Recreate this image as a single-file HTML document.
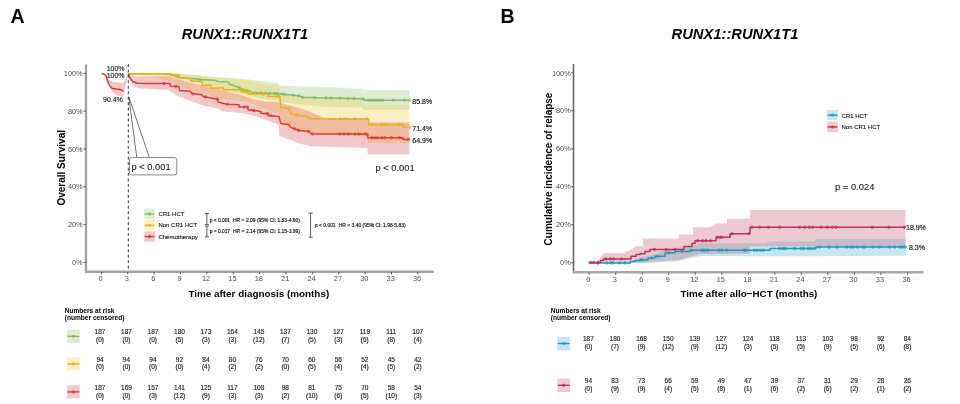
<!DOCTYPE html>
<html><head><meta charset="utf-8"><style>
html,body{margin:0;padding:0;background:#fff;width:960px;height:404px;overflow:hidden}
svg{display:block;filter:blur(0.3px)}
text{font-family:"Liberation Sans", sans-serif}
</style></head><body>
<svg width="960" height="404" viewBox="0 0 960 404">
<rect width="960" height="404" fill="#fff"/>
<text x="10.50" y="22.80" font-size="19.5" text-anchor="start" font-weight="bold" font-style="normal" fill="#000" >A</text>
<text x="500.50" y="23.20" font-size="19.5" text-anchor="start" font-weight="bold" font-style="normal" fill="#000" >B</text>
<text x="181.70" y="38.60" font-size="15.4" text-anchor="start" font-weight="bold" font-style="italic" fill="#000" textLength="126.6" lengthAdjust="spacingAndGlyphs">RUNX1::RUNX1T1</text>
<text x="671.50" y="38.60" font-size="15.4" text-anchor="start" font-weight="bold" font-style="italic" fill="#000" textLength="127" lengthAdjust="spacingAndGlyphs">RUNX1::RUNX1T1</text>
<g>
<path d="M128.20,73.40 L160.00,73.00 L175.00,73.50 L208.00,76.50 L245.00,79.00 L278.80,83.00 L278.80,85.80 L320.00,86.80 L363.00,88.90 L363.00,89.90 L409.30,89.90 L409.30,109.70 L363.00,109.70 L363.00,107.70 L320.00,106.60 L298.60,104.50 L278.80,101.50 L256.80,98.00 L223.40,89.50 L199.60,82.50 L179.80,78.50 L160.00,74.90 L128.20,74.20 Z" fill="#8fc46e" fill-opacity="0.3" stroke="none"/>
<path d="M128.20,73.20 L160.00,72.60 L175.00,72.80 L208.00,76.50 L245.00,80.00 L270.00,84.50 L279.30,84.60 L280.80,95.70 L320.00,97.70 L363.00,100.80 L363.00,104.75 L409.30,104.75 L409.30,143.40 L368.00,143.00 L367.00,136.00 L320.00,134.50 L300.00,131.00 L280.80,125.00 L278.80,113.50 L268.00,110.00 L256.80,105.80 L245.70,101.80 L223.40,99.20 L199.60,92.50 L190.00,89.80 L179.80,86.50 L167.90,80.50 L150.00,77.00 L128.20,74.00 Z" fill="#f2cd3c" fill-opacity="0.3" stroke="none"/>
<path d="M101.60,73.50 L105.00,74.00 L107.00,76.00 L108.00,79.00 L110.00,81.00 L114.00,82.00 L123.20,83.00 L128.20,73.50 L128.20,73.50 L123.20,97.50 L116.00,95.00 L112.00,92.00 L109.00,86.00 L107.00,82.00 L105.00,75.00 L101.60,73.50 Z" fill="#d7484e" fill-opacity="0.3" stroke="none"/>
<path d="M128.20,73.50 L135.00,76.20 L166.70,76.30 L175.00,77.80 L190.00,83.00 L208.00,86.50 L223.40,90.20 L245.70,96.40 L256.80,100.30 L268.00,101.40 L278.80,102.30 L288.00,105.00 L298.00,107.80 L307.00,110.60 L316.00,114.30 L325.00,118.00 L350.00,119.00 L367.70,119.50 L367.70,122.60 L409.30,122.60 L409.30,154.30 L367.70,154.30 L367.70,148.00 L326.00,146.80 L309.00,145.90 L298.00,143.10 L289.00,139.40 L279.30,135.70 L278.80,124.50 L256.80,117.00 L245.70,113.60 L223.40,111.40 L217.80,108.50 L205.00,106.00 L190.60,100.90 L180.00,97.20 L174.00,93.50 L167.90,89.80 L160.00,89.50 L140.00,88.30 L135.00,87.00 L131.00,83.00 L128.20,73.50 Z" fill="#d7484e" fill-opacity="0.3" stroke="none"/>
</g>
<path d="M128.20,73.80 L168.00,73.80 L172.00,75.00 L180.00,77.50 L195.00,78.70 L200.00,79.50 L215.00,80.30 L218.00,81.50 L228.00,82.00 L230.00,84.50 L238.00,87.00 L242.00,89.50 L250.00,91.20 L253.00,92.80 L280.00,93.70 L285.00,94.50 L298.60,95.70 L302.60,97.30 L320.00,97.70 L363.80,98.80 L363.80,100.20 L409.30,100.20" fill="none" stroke="#86b96c" stroke-width="1.5" stroke-linejoin="round"/>
<circle cx="199.6" cy="79.44" r="1.3" fill="#86b96c" fill-opacity="0.5" stroke="#86b96c" stroke-width="0.6"/>
<circle cx="239.2" cy="87.75" r="1.3" fill="#86b96c" fill-opacity="0.5" stroke="#86b96c" stroke-width="0.6"/>
<circle cx="242.9" cy="89.69" r="1.3" fill="#86b96c" fill-opacity="0.5" stroke="#86b96c" stroke-width="0.6"/>
<circle cx="246.8" cy="90.52" r="1.3" fill="#86b96c" fill-opacity="0.5" stroke="#86b96c" stroke-width="0.6"/>
<circle cx="255.7" cy="92.89" r="1.3" fill="#86b96c" fill-opacity="0.5" stroke="#86b96c" stroke-width="0.6"/>
<circle cx="260.7" cy="93.06" r="1.3" fill="#86b96c" fill-opacity="0.5" stroke="#86b96c" stroke-width="0.6"/>
<circle cx="265.6" cy="93.22" r="1.3" fill="#86b96c" fill-opacity="0.5" stroke="#86b96c" stroke-width="0.6"/>
<circle cx="269.6" cy="93.35" r="1.3" fill="#86b96c" fill-opacity="0.5" stroke="#86b96c" stroke-width="0.6"/>
<circle cx="274.6" cy="93.52" r="1.3" fill="#86b96c" fill-opacity="0.5" stroke="#86b96c" stroke-width="0.6"/>
<circle cx="277.5" cy="93.62" r="1.3" fill="#86b96c" fill-opacity="0.5" stroke="#86b96c" stroke-width="0.6"/>
<circle cx="282.8" cy="94.15" r="1.3" fill="#86b96c" fill-opacity="0.5" stroke="#86b96c" stroke-width="0.6"/>
<circle cx="285.4" cy="94.54" r="1.3" fill="#86b96c" fill-opacity="0.5" stroke="#86b96c" stroke-width="0.6"/>
<circle cx="293.4" cy="95.24" r="1.3" fill="#86b96c" fill-opacity="0.5" stroke="#86b96c" stroke-width="0.6"/>
<circle cx="298.6" cy="95.70" r="1.3" fill="#86b96c" fill-opacity="0.5" stroke="#86b96c" stroke-width="0.6"/>
<circle cx="302.6" cy="97.30" r="1.3" fill="#86b96c" fill-opacity="0.5" stroke="#86b96c" stroke-width="0.6"/>
<circle cx="314.5" cy="97.57" r="1.3" fill="#86b96c" fill-opacity="0.5" stroke="#86b96c" stroke-width="0.6"/>
<circle cx="326.0" cy="97.85" r="1.3" fill="#86b96c" fill-opacity="0.5" stroke="#86b96c" stroke-width="0.6"/>
<circle cx="331.0" cy="97.98" r="1.3" fill="#86b96c" fill-opacity="0.5" stroke="#86b96c" stroke-width="0.6"/>
<circle cx="340.0" cy="98.20" r="1.3" fill="#86b96c" fill-opacity="0.5" stroke="#86b96c" stroke-width="0.6"/>
<circle cx="347.9" cy="98.40" r="1.3" fill="#86b96c" fill-opacity="0.5" stroke="#86b96c" stroke-width="0.6"/>
<circle cx="353.9" cy="98.55" r="1.3" fill="#86b96c" fill-opacity="0.5" stroke="#86b96c" stroke-width="0.6"/>
<circle cx="362.8" cy="98.77" r="1.3" fill="#86b96c" fill-opacity="0.5" stroke="#86b96c" stroke-width="0.6"/>
<circle cx="367.7" cy="100.20" r="1.3" fill="#86b96c" fill-opacity="0.5" stroke="#86b96c" stroke-width="0.6"/>
<circle cx="370.0" cy="100.20" r="1.3" fill="#86b96c" fill-opacity="0.5" stroke="#86b96c" stroke-width="0.6"/>
<circle cx="372.5" cy="100.20" r="1.3" fill="#86b96c" fill-opacity="0.5" stroke="#86b96c" stroke-width="0.6"/>
<circle cx="375.0" cy="100.20" r="1.3" fill="#86b96c" fill-opacity="0.5" stroke="#86b96c" stroke-width="0.6"/>
<circle cx="377.5" cy="100.20" r="1.3" fill="#86b96c" fill-opacity="0.5" stroke="#86b96c" stroke-width="0.6"/>
<circle cx="380.0" cy="100.20" r="1.3" fill="#86b96c" fill-opacity="0.5" stroke="#86b96c" stroke-width="0.6"/>
<circle cx="382.6" cy="100.20" r="1.3" fill="#86b96c" fill-opacity="0.5" stroke="#86b96c" stroke-width="0.6"/>
<circle cx="393.5" cy="100.20" r="1.3" fill="#86b96c" fill-opacity="0.5" stroke="#86b96c" stroke-width="0.6"/>
<circle cx="404.4" cy="100.20" r="1.3" fill="#86b96c" fill-opacity="0.5" stroke="#86b96c" stroke-width="0.6"/>
<circle cx="409.3" cy="100.20" r="1.3" fill="#86b96c" fill-opacity="0.5" stroke="#86b96c" stroke-width="0.6"/>
<path d="M128.20,73.70 L170.80,73.70 L170.80,75.00 L179.20,75.00 L179.20,77.80 L190.00,78.50 L191.00,81.30 L202.00,81.30 L202.00,85.20 L211.00,85.20 L211.00,88.00 L223.40,88.00 L223.40,89.70 L241.00,89.70 L241.00,91.40 L248.00,91.40 L248.00,94.10 L268.00,94.10 L268.00,96.40 L279.80,96.40 L280.80,107.60 L288.70,108.60 L290.70,113.50 L298.60,115.50 L306.50,116.50 L310.50,118.50 L320.00,119.00 L368.70,119.00 L368.70,124.60 L403.40,124.60 L403.40,127.50 L409.30,127.50" fill="none" stroke="#e5b218" stroke-width="1.5" stroke-linejoin="round"/>
<circle cx="245.0" cy="91.40" r="1.3" fill="#e5b218" fill-opacity="0.5" stroke="#e5b218" stroke-width="0.6"/>
<circle cx="247.0" cy="91.40" r="1.3" fill="#e5b218" fill-opacity="0.5" stroke="#e5b218" stroke-width="0.6"/>
<circle cx="263.0" cy="94.10" r="1.3" fill="#e5b218" fill-opacity="0.5" stroke="#e5b218" stroke-width="0.6"/>
<circle cx="278.8" cy="96.40" r="1.3" fill="#e5b218" fill-opacity="0.5" stroke="#e5b218" stroke-width="0.6"/>
<circle cx="288.7" cy="108.60" r="1.3" fill="#e5b218" fill-opacity="0.5" stroke="#e5b218" stroke-width="0.6"/>
<circle cx="296.6" cy="114.99" r="1.3" fill="#e5b218" fill-opacity="0.5" stroke="#e5b218" stroke-width="0.6"/>
<circle cx="308.5" cy="117.50" r="1.3" fill="#e5b218" fill-opacity="0.5" stroke="#e5b218" stroke-width="0.6"/>
<circle cx="340.0" cy="119.00" r="1.3" fill="#e5b218" fill-opacity="0.5" stroke="#e5b218" stroke-width="0.6"/>
<circle cx="344.0" cy="119.00" r="1.3" fill="#e5b218" fill-opacity="0.5" stroke="#e5b218" stroke-width="0.6"/>
<circle cx="347.0" cy="119.00" r="1.3" fill="#e5b218" fill-opacity="0.5" stroke="#e5b218" stroke-width="0.6"/>
<circle cx="354.9" cy="119.00" r="1.3" fill="#e5b218" fill-opacity="0.5" stroke="#e5b218" stroke-width="0.6"/>
<circle cx="366.7" cy="119.00" r="1.3" fill="#e5b218" fill-opacity="0.5" stroke="#e5b218" stroke-width="0.6"/>
<circle cx="371.7" cy="124.60" r="1.3" fill="#e5b218" fill-opacity="0.5" stroke="#e5b218" stroke-width="0.6"/>
<circle cx="381.6" cy="124.60" r="1.3" fill="#e5b218" fill-opacity="0.5" stroke="#e5b218" stroke-width="0.6"/>
<circle cx="385.5" cy="124.60" r="1.3" fill="#e5b218" fill-opacity="0.5" stroke="#e5b218" stroke-width="0.6"/>
<circle cx="399.4" cy="124.60" r="1.3" fill="#e5b218" fill-opacity="0.5" stroke="#e5b218" stroke-width="0.6"/>
<circle cx="409.3" cy="127.50" r="1.3" fill="#e5b218" fill-opacity="0.5" stroke="#e5b218" stroke-width="0.6"/>
<path d="M128.20,73.50 L130.00,78.00 L133.00,81.50 L137.00,83.20 L147.00,83.50 L169.90,83.60 L170.50,86.20 L178.80,86.60 L179.80,90.50 L190.00,91.20 L192.00,93.60 L202.00,94.70 L203.00,96.40 L217.80,99.20 L218.00,102.00 L226.70,104.20 L239.00,104.70 L239.00,107.00 L248.00,107.00 L248.00,109.70 L261.00,111.40 L261.00,113.60 L268.00,113.60 L268.00,115.50 L278.80,116.40 L280.80,123.40 L288.70,124.40 L290.70,127.40 L298.60,130.40 L308.50,131.30 L311.50,134.00 L367.70,134.00 L367.70,137.80 L403.00,137.80 L403.00,139.40 L409.30,139.40" fill="none" stroke="#df3b2e" stroke-width="1.5" stroke-linejoin="round"/>
<circle cx="164.0" cy="83.57" r="1.3" fill="#df3b2e" fill-opacity="0.5" stroke="#df3b2e" stroke-width="0.6"/>
<circle cx="175.8" cy="86.46" r="1.3" fill="#df3b2e" fill-opacity="0.5" stroke="#df3b2e" stroke-width="0.6"/>
<circle cx="192.7" cy="93.68" r="1.3" fill="#df3b2e" fill-opacity="0.5" stroke="#df3b2e" stroke-width="0.6"/>
<circle cx="205.5" cy="96.87" r="1.3" fill="#df3b2e" fill-opacity="0.5" stroke="#df3b2e" stroke-width="0.6"/>
<circle cx="217.4" cy="99.12" r="1.3" fill="#df3b2e" fill-opacity="0.5" stroke="#df3b2e" stroke-width="0.6"/>
<circle cx="227.3" cy="104.22" r="1.3" fill="#df3b2e" fill-opacity="0.5" stroke="#df3b2e" stroke-width="0.6"/>
<circle cx="244.2" cy="107.00" r="1.3" fill="#df3b2e" fill-opacity="0.5" stroke="#df3b2e" stroke-width="0.6"/>
<circle cx="247.1" cy="107.00" r="1.3" fill="#df3b2e" fill-opacity="0.5" stroke="#df3b2e" stroke-width="0.6"/>
<circle cx="254.0" cy="110.48" r="1.3" fill="#df3b2e" fill-opacity="0.5" stroke="#df3b2e" stroke-width="0.6"/>
<circle cx="266.9" cy="113.60" r="1.3" fill="#df3b2e" fill-opacity="0.5" stroke="#df3b2e" stroke-width="0.6"/>
<circle cx="270.9" cy="115.74" r="1.3" fill="#df3b2e" fill-opacity="0.5" stroke="#df3b2e" stroke-width="0.6"/>
<circle cx="294.7" cy="128.92" r="1.3" fill="#df3b2e" fill-opacity="0.5" stroke="#df3b2e" stroke-width="0.6"/>
<circle cx="298.6" cy="130.40" r="1.3" fill="#df3b2e" fill-opacity="0.5" stroke="#df3b2e" stroke-width="0.6"/>
<circle cx="308.5" cy="131.30" r="1.3" fill="#df3b2e" fill-opacity="0.5" stroke="#df3b2e" stroke-width="0.6"/>
<circle cx="312.5" cy="134.00" r="1.3" fill="#df3b2e" fill-opacity="0.5" stroke="#df3b2e" stroke-width="0.6"/>
<circle cx="340.0" cy="134.00" r="1.3" fill="#df3b2e" fill-opacity="0.5" stroke="#df3b2e" stroke-width="0.6"/>
<circle cx="344.0" cy="134.00" r="1.3" fill="#df3b2e" fill-opacity="0.5" stroke="#df3b2e" stroke-width="0.6"/>
<circle cx="348.9" cy="134.00" r="1.3" fill="#df3b2e" fill-opacity="0.5" stroke="#df3b2e" stroke-width="0.6"/>
<circle cx="354.9" cy="134.00" r="1.3" fill="#df3b2e" fill-opacity="0.5" stroke="#df3b2e" stroke-width="0.6"/>
<circle cx="358.8" cy="134.00" r="1.3" fill="#df3b2e" fill-opacity="0.5" stroke="#df3b2e" stroke-width="0.6"/>
<circle cx="365.7" cy="134.00" r="1.3" fill="#df3b2e" fill-opacity="0.5" stroke="#df3b2e" stroke-width="0.6"/>
<circle cx="371.7" cy="137.80" r="1.3" fill="#df3b2e" fill-opacity="0.5" stroke="#df3b2e" stroke-width="0.6"/>
<circle cx="374.7" cy="137.80" r="1.3" fill="#df3b2e" fill-opacity="0.5" stroke="#df3b2e" stroke-width="0.6"/>
<circle cx="377.6" cy="137.80" r="1.3" fill="#df3b2e" fill-opacity="0.5" stroke="#df3b2e" stroke-width="0.6"/>
<circle cx="381.6" cy="137.80" r="1.3" fill="#df3b2e" fill-opacity="0.5" stroke="#df3b2e" stroke-width="0.6"/>
<circle cx="384.6" cy="137.80" r="1.3" fill="#df3b2e" fill-opacity="0.5" stroke="#df3b2e" stroke-width="0.6"/>
<circle cx="391.5" cy="137.80" r="1.3" fill="#df3b2e" fill-opacity="0.5" stroke="#df3b2e" stroke-width="0.6"/>
<circle cx="399.4" cy="137.80" r="1.3" fill="#df3b2e" fill-opacity="0.5" stroke="#df3b2e" stroke-width="0.6"/>
<circle cx="408.3" cy="139.40" r="1.3" fill="#df3b2e" fill-opacity="0.5" stroke="#df3b2e" stroke-width="0.6"/>
<path d="M101.60,73.50 L104.50,74.30 L106.30,76.50 L107.30,80.00 L108.50,83.30 L110.00,86.00 L112.00,88.30 L116.00,89.00 L120.00,89.40 L122.00,90.40 L123.20,91.50" fill="none" stroke="#df3b2e" stroke-width="1.5" stroke-linejoin="round"/>
<path d="M86,64.5 V271.8 H433.8" fill="none" stroke="#a3a3a3" stroke-width="2.4"/>
<path d="M83.6,262.40 H86" stroke="#333" stroke-width="0.8"/>
<text x="82.70" y="265.00" font-size="7.4" text-anchor="end" font-weight="normal" font-style="normal" fill="#4d4d4d" >0%</text>
<path d="M83.6,224.60 H86" stroke="#333" stroke-width="0.8"/>
<text x="82.70" y="227.20" font-size="7.4" text-anchor="end" font-weight="normal" font-style="normal" fill="#4d4d4d" >20%</text>
<path d="M83.6,186.80 H86" stroke="#333" stroke-width="0.8"/>
<text x="82.70" y="189.40" font-size="7.4" text-anchor="end" font-weight="normal" font-style="normal" fill="#4d4d4d" >40%</text>
<path d="M83.6,149.00 H86" stroke="#333" stroke-width="0.8"/>
<text x="82.70" y="151.60" font-size="7.4" text-anchor="end" font-weight="normal" font-style="normal" fill="#4d4d4d" >60%</text>
<path d="M83.6,111.20 H86" stroke="#333" stroke-width="0.8"/>
<text x="82.70" y="113.80" font-size="7.4" text-anchor="end" font-weight="normal" font-style="normal" fill="#4d4d4d" >80%</text>
<path d="M83.6,73.40 H86" stroke="#333" stroke-width="0.8"/>
<text x="82.70" y="76.00" font-size="7.4" text-anchor="end" font-weight="normal" font-style="normal" fill="#4d4d4d" >100%</text>
<path d="M101.40,272 V274.3" stroke="#333" stroke-width="0.8"/>
<text x="100.55" y="281.30" font-size="7.4" text-anchor="middle" font-weight="normal" font-style="normal" fill="#4d4d4d" >0</text>
<path d="M127.78,272 V274.3" stroke="#333" stroke-width="0.8"/>
<text x="126.93" y="281.30" font-size="7.4" text-anchor="middle" font-weight="normal" font-style="normal" fill="#4d4d4d" >3</text>
<path d="M154.15,272 V274.3" stroke="#333" stroke-width="0.8"/>
<text x="153.30" y="281.30" font-size="7.4" text-anchor="middle" font-weight="normal" font-style="normal" fill="#4d4d4d" >6</text>
<path d="M180.53,272 V274.3" stroke="#333" stroke-width="0.8"/>
<text x="179.68" y="281.30" font-size="7.4" text-anchor="middle" font-weight="normal" font-style="normal" fill="#4d4d4d" >9</text>
<path d="M206.90,272 V274.3" stroke="#333" stroke-width="0.8"/>
<text x="206.05" y="281.30" font-size="7.4" text-anchor="middle" font-weight="normal" font-style="normal" fill="#4d4d4d" >12</text>
<path d="M233.28,272 V274.3" stroke="#333" stroke-width="0.8"/>
<text x="232.43" y="281.30" font-size="7.4" text-anchor="middle" font-weight="normal" font-style="normal" fill="#4d4d4d" >15</text>
<path d="M259.65,272 V274.3" stroke="#333" stroke-width="0.8"/>
<text x="258.80" y="281.30" font-size="7.4" text-anchor="middle" font-weight="normal" font-style="normal" fill="#4d4d4d" >18</text>
<path d="M286.02,272 V274.3" stroke="#333" stroke-width="0.8"/>
<text x="285.17" y="281.30" font-size="7.4" text-anchor="middle" font-weight="normal" font-style="normal" fill="#4d4d4d" >21</text>
<path d="M312.40,272 V274.3" stroke="#333" stroke-width="0.8"/>
<text x="311.55" y="281.30" font-size="7.4" text-anchor="middle" font-weight="normal" font-style="normal" fill="#4d4d4d" >24</text>
<path d="M338.77,272 V274.3" stroke="#333" stroke-width="0.8"/>
<text x="337.92" y="281.30" font-size="7.4" text-anchor="middle" font-weight="normal" font-style="normal" fill="#4d4d4d" >27</text>
<path d="M365.15,272 V274.3" stroke="#333" stroke-width="0.8"/>
<text x="364.30" y="281.30" font-size="7.4" text-anchor="middle" font-weight="normal" font-style="normal" fill="#4d4d4d" >30</text>
<path d="M391.52,272 V274.3" stroke="#333" stroke-width="0.8"/>
<text x="390.67" y="281.30" font-size="7.4" text-anchor="middle" font-weight="normal" font-style="normal" fill="#4d4d4d" >33</text>
<path d="M417.90,272 V274.3" stroke="#333" stroke-width="0.8"/>
<text x="417.05" y="281.30" font-size="7.4" text-anchor="middle" font-weight="normal" font-style="normal" fill="#4d4d4d" >36</text>
<text x="188.40" y="296.50" font-size="9.9" text-anchor="start" font-weight="bold" font-style="normal" fill="#000" textLength="140.8" lengthAdjust="spacingAndGlyphs">Time after diagnosis (months)</text>
<text x="0" y="0" font-size="10" font-weight="bold" text-anchor="middle" transform="translate(64.5,167.8) rotate(-90)">Overall Survival</text>
<path d="M128.3,64 V271" stroke="#222" stroke-width="0.9" stroke-dasharray="3,2.45"/>
<text x="106.70" y="70.60" font-size="7" text-anchor="start" font-weight="normal" font-style="normal" fill="#222" stroke="#222" stroke-width="0.15" >100%</text>
<text x="106.70" y="78.10" font-size="7" text-anchor="start" font-weight="normal" font-style="normal" fill="#222" stroke="#222" stroke-width="0.15" >100%</text>
<text x="103.00" y="102.00" font-size="7" text-anchor="start" font-weight="normal" font-style="normal" fill="#222" stroke="#222" stroke-width="0.15" >90.4%</text>
<text x="412.30" y="103.60" font-size="7" text-anchor="start" font-weight="normal" font-style="normal" fill="#222" stroke="#222" stroke-width="0.18" >85.8%</text>
<text x="412.30" y="130.80" font-size="7" text-anchor="start" font-weight="normal" font-style="normal" fill="#222" stroke="#222" stroke-width="0.18" >71.4%</text>
<text x="412.30" y="142.80" font-size="7" text-anchor="start" font-weight="normal" font-style="normal" fill="#222" stroke="#222" stroke-width="0.18" >64.9%</text>
<path d="M128.8,97 L136.8,157.6 M128.8,97 L149.4,157.6" stroke="#333" stroke-width="0.7" fill="none"/>
<rect x="129.5" y="157.6" width="47.3" height="17.3" rx="2.2" fill="#fff" stroke="#555" stroke-width="0.7"/>
<text x="131.60" y="170.40" font-size="9.3" text-anchor="start" font-weight="normal" font-style="normal" fill="#222" stroke="#222" stroke-width="0.1" >p &lt; 0.001</text>
<text x="375.60" y="170.60" font-size="9.3" text-anchor="start" font-weight="normal" font-style="normal" fill="#222" stroke="#222" stroke-width="0.1" >p &lt; 0.001</text>
<rect x="144.2" y="208.7" width="10.6" height="10.5" fill="#8fc46e" fill-opacity="0.3"/>
<path d="M144.7,213.95 H154.29999999999998" stroke="#86b96c" stroke-width="1.4"/>
<circle cx="149.50" cy="213.95" r="1.3" fill="#86b96c" fill-opacity="0.6" stroke="#86b96c" stroke-width="0.6"/>
<rect x="144.2" y="220" width="10.6" height="10.5" fill="#f2cd3c" fill-opacity="0.3"/>
<path d="M144.7,225.25 H154.29999999999998" stroke="#e5b218" stroke-width="1.4"/>
<circle cx="149.50" cy="225.25" r="1.3" fill="#e5b218" fill-opacity="0.6" stroke="#e5b218" stroke-width="0.6"/>
<rect x="144.2" y="231.3" width="10.6" height="10.5" fill="#d7484e" fill-opacity="0.3"/>
<path d="M144.7,236.55 H154.29999999999998" stroke="#df3b2e" stroke-width="1.4"/>
<circle cx="149.50" cy="236.55" r="1.3" fill="#df3b2e" fill-opacity="0.6" stroke="#df3b2e" stroke-width="0.6"/>
<text x="158.40" y="215.80" font-size="6" text-anchor="start" font-weight="normal" font-style="normal" fill="#222" stroke="#222" stroke-width="0.15" >CR1 HCT</text>
<text x="158.40" y="227.20" font-size="6" text-anchor="start" font-weight="normal" font-style="normal" fill="#222" stroke="#222" stroke-width="0.15" >Non CR1 HCT</text>
<text x="158.40" y="238.70" font-size="6" text-anchor="start" font-weight="normal" font-style="normal" fill="#222" stroke="#222" stroke-width="0.15" >Chemotherapy</text>
<path d="M204.9,213.5 H208.9 M206.9,213.5 V224.6 M204.9,224.6 H208.9" stroke="#4a4a4a" stroke-width="0.9" fill="none"/>
<path d="M204.9,226.1 H208.9 M206.9,226.1 V236.9 M204.9,236.9 H208.9" stroke="#4a4a4a" stroke-width="0.9" fill="none"/>
<path d="M308.6,213.1 H312.6 M310.6,213.1 V237.25 M308.6,237.25 H312.6" stroke="#4a4a4a" stroke-width="0.9" fill="none"/>
<text x="209.75" y="221.80" font-size="4.6" text-anchor="start" font-weight="normal" font-style="normal" fill="#111" stroke="#111" stroke-width="0.15" textLength="20.25" lengthAdjust="spacingAndGlyphs">p &lt; 0.001</text>
<text x="233.00" y="221.80" font-size="4.6" text-anchor="start" font-weight="normal" font-style="normal" fill="#111" stroke="#111" stroke-width="0.15" textLength="22.60" lengthAdjust="spacingAndGlyphs">HR = 2.09</text>
<text x="256.90" y="221.80" font-size="4.6" text-anchor="start" font-weight="normal" font-style="normal" fill="#111" stroke="#111" stroke-width="0.15" textLength="43.10" lengthAdjust="spacingAndGlyphs">(95% CI: 1.83-4.90)</text>
<text x="209.75" y="232.60" font-size="4.6" text-anchor="start" font-weight="normal" font-style="normal" fill="#111" stroke="#111" stroke-width="0.15" textLength="20.25" lengthAdjust="spacingAndGlyphs">p = 0.017</text>
<text x="233.00" y="232.60" font-size="4.6" text-anchor="start" font-weight="normal" font-style="normal" fill="#111" stroke="#111" stroke-width="0.15" textLength="22.60" lengthAdjust="spacingAndGlyphs">HR = 2.14</text>
<text x="256.90" y="232.60" font-size="4.6" text-anchor="start" font-weight="normal" font-style="normal" fill="#111" stroke="#111" stroke-width="0.15" textLength="43.10" lengthAdjust="spacingAndGlyphs">(95% CI: 1.15-3.99)</text>
<text x="315.00" y="227.30" font-size="4.6" text-anchor="start" font-weight="normal" font-style="normal" fill="#111" stroke="#111" stroke-width="0.15" textLength="20.60" lengthAdjust="spacingAndGlyphs">p &lt; 0.001</text>
<text x="338.75" y="227.30" font-size="4.6" text-anchor="start" font-weight="normal" font-style="normal" fill="#111" stroke="#111" stroke-width="0.15" textLength="22.50" lengthAdjust="spacingAndGlyphs">HR = 3.40</text>
<text x="362.50" y="227.30" font-size="4.6" text-anchor="start" font-weight="normal" font-style="normal" fill="#111" stroke="#111" stroke-width="0.15" textLength="43.10" lengthAdjust="spacingAndGlyphs">(95% CI: 1.98-5.83)</text>
<text x="64.70" y="313.10" font-size="6.6" text-anchor="start" font-weight="bold" font-style="normal" fill="#000" >Numbers at risk</text>
<text x="64.70" y="320.30" font-size="6.6" text-anchor="start" font-weight="bold" font-style="normal" fill="#000" >(number censored)</text>
<rect x="67" y="329.7" width="12.8" height="13.2" fill="#8fc46e" fill-opacity="0.3"/>
<path d="M67.5,336.30 H79.3" stroke="#86b96c" stroke-width="1.4"/>
<circle cx="73.40" cy="336.30" r="1.3" fill="#86b96c" fill-opacity="0.6" stroke="#86b96c" stroke-width="0.6"/>
<text x="100.00" y="333.80" font-size="6.5" text-anchor="middle" font-weight="normal" font-style="normal" fill="#222" stroke="#222" stroke-width="0.15" >187</text>
<text x="100.00" y="341.60" font-size="6.5" text-anchor="middle" font-weight="normal" font-style="normal" fill="#222" stroke="#222" stroke-width="0.15" >(0)</text>
<text x="126.48" y="333.80" font-size="6.5" text-anchor="middle" font-weight="normal" font-style="normal" fill="#222" stroke="#222" stroke-width="0.15" >187</text>
<text x="126.48" y="341.60" font-size="6.5" text-anchor="middle" font-weight="normal" font-style="normal" fill="#222" stroke="#222" stroke-width="0.15" >(0)</text>
<text x="152.97" y="333.80" font-size="6.5" text-anchor="middle" font-weight="normal" font-style="normal" fill="#222" stroke="#222" stroke-width="0.15" >187</text>
<text x="152.97" y="341.60" font-size="6.5" text-anchor="middle" font-weight="normal" font-style="normal" fill="#222" stroke="#222" stroke-width="0.15" >(0)</text>
<text x="179.45" y="333.80" font-size="6.5" text-anchor="middle" font-weight="normal" font-style="normal" fill="#222" stroke="#222" stroke-width="0.15" >180</text>
<text x="179.45" y="341.60" font-size="6.5" text-anchor="middle" font-weight="normal" font-style="normal" fill="#222" stroke="#222" stroke-width="0.15" >(5)</text>
<text x="205.93" y="333.80" font-size="6.5" text-anchor="middle" font-weight="normal" font-style="normal" fill="#222" stroke="#222" stroke-width="0.15" >173</text>
<text x="205.93" y="341.60" font-size="6.5" text-anchor="middle" font-weight="normal" font-style="normal" fill="#222" stroke="#222" stroke-width="0.15" >(3)</text>
<text x="232.42" y="333.80" font-size="6.5" text-anchor="middle" font-weight="normal" font-style="normal" fill="#222" stroke="#222" stroke-width="0.15" >164</text>
<text x="232.42" y="341.60" font-size="6.5" text-anchor="middle" font-weight="normal" font-style="normal" fill="#222" stroke="#222" stroke-width="0.15" >(3)</text>
<text x="258.90" y="333.80" font-size="6.5" text-anchor="middle" font-weight="normal" font-style="normal" fill="#222" stroke="#222" stroke-width="0.15" >145</text>
<text x="258.90" y="341.60" font-size="6.5" text-anchor="middle" font-weight="normal" font-style="normal" fill="#222" stroke="#222" stroke-width="0.15" >(12)</text>
<text x="285.38" y="333.80" font-size="6.5" text-anchor="middle" font-weight="normal" font-style="normal" fill="#222" stroke="#222" stroke-width="0.15" >137</text>
<text x="285.38" y="341.60" font-size="6.5" text-anchor="middle" font-weight="normal" font-style="normal" fill="#222" stroke="#222" stroke-width="0.15" >(7)</text>
<text x="311.87" y="333.80" font-size="6.5" text-anchor="middle" font-weight="normal" font-style="normal" fill="#222" stroke="#222" stroke-width="0.15" >130</text>
<text x="311.87" y="341.60" font-size="6.5" text-anchor="middle" font-weight="normal" font-style="normal" fill="#222" stroke="#222" stroke-width="0.15" >(5)</text>
<text x="338.35" y="333.80" font-size="6.5" text-anchor="middle" font-weight="normal" font-style="normal" fill="#222" stroke="#222" stroke-width="0.15" >127</text>
<text x="338.35" y="341.60" font-size="6.5" text-anchor="middle" font-weight="normal" font-style="normal" fill="#222" stroke="#222" stroke-width="0.15" >(3)</text>
<text x="364.83" y="333.80" font-size="6.5" text-anchor="middle" font-weight="normal" font-style="normal" fill="#222" stroke="#222" stroke-width="0.15" >119</text>
<text x="364.83" y="341.60" font-size="6.5" text-anchor="middle" font-weight="normal" font-style="normal" fill="#222" stroke="#222" stroke-width="0.15" >(6)</text>
<text x="391.32" y="333.80" font-size="6.5" text-anchor="middle" font-weight="normal" font-style="normal" fill="#222" stroke="#222" stroke-width="0.15" >111</text>
<text x="391.32" y="341.60" font-size="6.5" text-anchor="middle" font-weight="normal" font-style="normal" fill="#222" stroke="#222" stroke-width="0.15" >(8)</text>
<text x="417.80" y="333.80" font-size="6.5" text-anchor="middle" font-weight="normal" font-style="normal" fill="#222" stroke="#222" stroke-width="0.15" >107</text>
<text x="417.80" y="341.60" font-size="6.5" text-anchor="middle" font-weight="normal" font-style="normal" fill="#222" stroke="#222" stroke-width="0.15" >(4)</text>
<rect x="67" y="357.3" width="12.8" height="13.2" fill="#f2cd3c" fill-opacity="0.3"/>
<path d="M67.5,363.90 H79.3" stroke="#e5b218" stroke-width="1.4"/>
<circle cx="73.40" cy="363.90" r="1.3" fill="#e5b218" fill-opacity="0.6" stroke="#e5b218" stroke-width="0.6"/>
<text x="100.00" y="362.10" font-size="6.5" text-anchor="middle" font-weight="normal" font-style="normal" fill="#222" stroke="#222" stroke-width="0.15" >94</text>
<text x="100.00" y="369.30" font-size="6.5" text-anchor="middle" font-weight="normal" font-style="normal" fill="#222" stroke="#222" stroke-width="0.15" >(0)</text>
<text x="126.48" y="362.10" font-size="6.5" text-anchor="middle" font-weight="normal" font-style="normal" fill="#222" stroke="#222" stroke-width="0.15" >94</text>
<text x="126.48" y="369.30" font-size="6.5" text-anchor="middle" font-weight="normal" font-style="normal" fill="#222" stroke="#222" stroke-width="0.15" >(0)</text>
<text x="152.97" y="362.10" font-size="6.5" text-anchor="middle" font-weight="normal" font-style="normal" fill="#222" stroke="#222" stroke-width="0.15" >94</text>
<text x="152.97" y="369.30" font-size="6.5" text-anchor="middle" font-weight="normal" font-style="normal" fill="#222" stroke="#222" stroke-width="0.15" >(0)</text>
<text x="179.45" y="362.10" font-size="6.5" text-anchor="middle" font-weight="normal" font-style="normal" fill="#222" stroke="#222" stroke-width="0.15" >92</text>
<text x="179.45" y="369.30" font-size="6.5" text-anchor="middle" font-weight="normal" font-style="normal" fill="#222" stroke="#222" stroke-width="0.15" >(0)</text>
<text x="205.93" y="362.10" font-size="6.5" text-anchor="middle" font-weight="normal" font-style="normal" fill="#222" stroke="#222" stroke-width="0.15" >84</text>
<text x="205.93" y="369.30" font-size="6.5" text-anchor="middle" font-weight="normal" font-style="normal" fill="#222" stroke="#222" stroke-width="0.15" >(4)</text>
<text x="232.42" y="362.10" font-size="6.5" text-anchor="middle" font-weight="normal" font-style="normal" fill="#222" stroke="#222" stroke-width="0.15" >80</text>
<text x="232.42" y="369.30" font-size="6.5" text-anchor="middle" font-weight="normal" font-style="normal" fill="#222" stroke="#222" stroke-width="0.15" >(2)</text>
<text x="258.90" y="362.10" font-size="6.5" text-anchor="middle" font-weight="normal" font-style="normal" fill="#222" stroke="#222" stroke-width="0.15" >76</text>
<text x="258.90" y="369.30" font-size="6.5" text-anchor="middle" font-weight="normal" font-style="normal" fill="#222" stroke="#222" stroke-width="0.15" >(2)</text>
<text x="285.38" y="362.10" font-size="6.5" text-anchor="middle" font-weight="normal" font-style="normal" fill="#222" stroke="#222" stroke-width="0.15" >70</text>
<text x="285.38" y="369.30" font-size="6.5" text-anchor="middle" font-weight="normal" font-style="normal" fill="#222" stroke="#222" stroke-width="0.15" >(0)</text>
<text x="311.87" y="362.10" font-size="6.5" text-anchor="middle" font-weight="normal" font-style="normal" fill="#222" stroke="#222" stroke-width="0.15" >60</text>
<text x="311.87" y="369.30" font-size="6.5" text-anchor="middle" font-weight="normal" font-style="normal" fill="#222" stroke="#222" stroke-width="0.15" >(5)</text>
<text x="338.35" y="362.10" font-size="6.5" text-anchor="middle" font-weight="normal" font-style="normal" fill="#222" stroke="#222" stroke-width="0.15" >56</text>
<text x="338.35" y="369.30" font-size="6.5" text-anchor="middle" font-weight="normal" font-style="normal" fill="#222" stroke="#222" stroke-width="0.15" >(4)</text>
<text x="364.83" y="362.10" font-size="6.5" text-anchor="middle" font-weight="normal" font-style="normal" fill="#222" stroke="#222" stroke-width="0.15" >52</text>
<text x="364.83" y="369.30" font-size="6.5" text-anchor="middle" font-weight="normal" font-style="normal" fill="#222" stroke="#222" stroke-width="0.15" >(4)</text>
<text x="391.32" y="362.10" font-size="6.5" text-anchor="middle" font-weight="normal" font-style="normal" fill="#222" stroke="#222" stroke-width="0.15" >45</text>
<text x="391.32" y="369.30" font-size="6.5" text-anchor="middle" font-weight="normal" font-style="normal" fill="#222" stroke="#222" stroke-width="0.15" >(5)</text>
<text x="417.80" y="362.10" font-size="6.5" text-anchor="middle" font-weight="normal" font-style="normal" fill="#222" stroke="#222" stroke-width="0.15" >42</text>
<text x="417.80" y="369.30" font-size="6.5" text-anchor="middle" font-weight="normal" font-style="normal" fill="#222" stroke="#222" stroke-width="0.15" >(2)</text>
<rect x="67" y="385.3" width="12.8" height="13.2" fill="#d7484e" fill-opacity="0.3"/>
<path d="M67.5,391.90 H79.3" stroke="#df3b2e" stroke-width="1.4"/>
<circle cx="73.40" cy="391.90" r="1.3" fill="#df3b2e" fill-opacity="0.6" stroke="#df3b2e" stroke-width="0.6"/>
<text x="100.00" y="390.00" font-size="6.5" text-anchor="middle" font-weight="normal" font-style="normal" fill="#222" stroke="#222" stroke-width="0.15" >187</text>
<text x="100.00" y="397.70" font-size="6.5" text-anchor="middle" font-weight="normal" font-style="normal" fill="#222" stroke="#222" stroke-width="0.15" >(0)</text>
<text x="126.48" y="390.00" font-size="6.5" text-anchor="middle" font-weight="normal" font-style="normal" fill="#222" stroke="#222" stroke-width="0.15" >169</text>
<text x="126.48" y="397.70" font-size="6.5" text-anchor="middle" font-weight="normal" font-style="normal" fill="#222" stroke="#222" stroke-width="0.15" >(0)</text>
<text x="152.97" y="390.00" font-size="6.5" text-anchor="middle" font-weight="normal" font-style="normal" fill="#222" stroke="#222" stroke-width="0.15" >157</text>
<text x="152.97" y="397.70" font-size="6.5" text-anchor="middle" font-weight="normal" font-style="normal" fill="#222" stroke="#222" stroke-width="0.15" >(3)</text>
<text x="179.45" y="390.00" font-size="6.5" text-anchor="middle" font-weight="normal" font-style="normal" fill="#222" stroke="#222" stroke-width="0.15" >141</text>
<text x="179.45" y="397.70" font-size="6.5" text-anchor="middle" font-weight="normal" font-style="normal" fill="#222" stroke="#222" stroke-width="0.15" >(12)</text>
<text x="205.93" y="390.00" font-size="6.5" text-anchor="middle" font-weight="normal" font-style="normal" fill="#222" stroke="#222" stroke-width="0.15" >125</text>
<text x="205.93" y="397.70" font-size="6.5" text-anchor="middle" font-weight="normal" font-style="normal" fill="#222" stroke="#222" stroke-width="0.15" >(9)</text>
<text x="232.42" y="390.00" font-size="6.5" text-anchor="middle" font-weight="normal" font-style="normal" fill="#222" stroke="#222" stroke-width="0.15" >117</text>
<text x="232.42" y="397.70" font-size="6.5" text-anchor="middle" font-weight="normal" font-style="normal" fill="#222" stroke="#222" stroke-width="0.15" >(3)</text>
<text x="258.90" y="390.00" font-size="6.5" text-anchor="middle" font-weight="normal" font-style="normal" fill="#222" stroke="#222" stroke-width="0.15" >108</text>
<text x="258.90" y="397.70" font-size="6.5" text-anchor="middle" font-weight="normal" font-style="normal" fill="#222" stroke="#222" stroke-width="0.15" >(3)</text>
<text x="285.38" y="390.00" font-size="6.5" text-anchor="middle" font-weight="normal" font-style="normal" fill="#222" stroke="#222" stroke-width="0.15" >98</text>
<text x="285.38" y="397.70" font-size="6.5" text-anchor="middle" font-weight="normal" font-style="normal" fill="#222" stroke="#222" stroke-width="0.15" >(2)</text>
<text x="311.87" y="390.00" font-size="6.5" text-anchor="middle" font-weight="normal" font-style="normal" fill="#222" stroke="#222" stroke-width="0.15" >81</text>
<text x="311.87" y="397.70" font-size="6.5" text-anchor="middle" font-weight="normal" font-style="normal" fill="#222" stroke="#222" stroke-width="0.15" >(10)</text>
<text x="338.35" y="390.00" font-size="6.5" text-anchor="middle" font-weight="normal" font-style="normal" fill="#222" stroke="#222" stroke-width="0.15" >75</text>
<text x="338.35" y="397.70" font-size="6.5" text-anchor="middle" font-weight="normal" font-style="normal" fill="#222" stroke="#222" stroke-width="0.15" >(6)</text>
<text x="364.83" y="390.00" font-size="6.5" text-anchor="middle" font-weight="normal" font-style="normal" fill="#222" stroke="#222" stroke-width="0.15" >70</text>
<text x="364.83" y="397.70" font-size="6.5" text-anchor="middle" font-weight="normal" font-style="normal" fill="#222" stroke="#222" stroke-width="0.15" >(5)</text>
<text x="391.32" y="390.00" font-size="6.5" text-anchor="middle" font-weight="normal" font-style="normal" fill="#222" stroke="#222" stroke-width="0.15" >58</text>
<text x="391.32" y="397.70" font-size="6.5" text-anchor="middle" font-weight="normal" font-style="normal" fill="#222" stroke="#222" stroke-width="0.15" >(10)</text>
<text x="417.80" y="390.00" font-size="6.5" text-anchor="middle" font-weight="normal" font-style="normal" fill="#222" stroke="#222" stroke-width="0.15" >54</text>
<text x="417.80" y="397.70" font-size="6.5" text-anchor="middle" font-weight="normal" font-style="normal" fill="#222" stroke="#222" stroke-width="0.15" >(3)</text>
<path d="M589.20,262.70 L630.00,262.00 L640.00,258.00 L655.00,254.00 L665.00,250.00 L690.00,246.00 L700.00,243.30 L767.00,243.30 L767.00,241.60 L814.00,241.60 L816.00,239.00 L905.50,239.00 L905.50,255.80 L800.00,256.30 L700.00,256.00 L690.00,258.00 L680.00,261.00 L650.00,263.00 L589.20,263.00 Z" fill="#4fb3cf" fill-opacity="0.32" stroke="none"/>
<path d="M589.20,262.50 L596.00,262.50 L604.00,253.30 L623.00,253.30 L630.00,250.00 L637.00,245.90 L643.00,245.90 L643.00,238.40 L679.00,238.40 L679.00,234.60 L693.00,234.60 L693.00,227.20 L710.00,227.20 L716.00,223.40 L727.00,223.40 L727.00,218.70 L750.00,218.70 L750.00,210.00 L905.50,210.00 L905.50,246.50 L750.00,246.50 L750.00,253.70 L700.00,254.00 L680.00,259.70 L640.00,262.60 L589.20,262.60 Z" fill="#c45a72" fill-opacity="0.32" stroke="none"/>
<path d="M589.20,262.90 L630.00,262.90 L630.00,261.50 L635.00,261.50 L635.00,260.60 L640.00,260.60 L640.00,259.70 L648.00,259.70 L648.00,258.00 L655.00,258.00 L655.00,256.30 L665.00,256.30 L665.00,252.80 L675.00,252.80 L675.00,251.40 L690.00,251.40 L690.00,250.20 L770.00,250.20 L770.00,248.50 L816.00,248.50 L816.00,247.10 L905.50,247.10" fill="none" stroke="#1b9ac0" stroke-width="1.5" stroke-linejoin="round"/>
<circle cx="598.0" cy="262.90" r="1.3" fill="#1b9ac0" fill-opacity="0.5" stroke="#1b9ac0" stroke-width="0.6"/>
<circle cx="606.6" cy="262.90" r="1.3" fill="#1b9ac0" fill-opacity="0.5" stroke="#1b9ac0" stroke-width="0.6"/>
<circle cx="611.0" cy="262.90" r="1.3" fill="#1b9ac0" fill-opacity="0.5" stroke="#1b9ac0" stroke-width="0.6"/>
<circle cx="612.7" cy="262.90" r="1.3" fill="#1b9ac0" fill-opacity="0.5" stroke="#1b9ac0" stroke-width="0.6"/>
<circle cx="619.6" cy="262.90" r="1.3" fill="#1b9ac0" fill-opacity="0.5" stroke="#1b9ac0" stroke-width="0.6"/>
<circle cx="624.8" cy="262.90" r="1.3" fill="#1b9ac0" fill-opacity="0.5" stroke="#1b9ac0" stroke-width="0.6"/>
<circle cx="641.3" cy="259.70" r="1.3" fill="#1b9ac0" fill-opacity="0.5" stroke="#1b9ac0" stroke-width="0.6"/>
<circle cx="651.7" cy="258.00" r="1.3" fill="#1b9ac0" fill-opacity="0.5" stroke="#1b9ac0" stroke-width="0.6"/>
<circle cx="657.7" cy="256.30" r="1.3" fill="#1b9ac0" fill-opacity="0.5" stroke="#1b9ac0" stroke-width="0.6"/>
<circle cx="669.0" cy="252.80" r="1.3" fill="#1b9ac0" fill-opacity="0.5" stroke="#1b9ac0" stroke-width="0.6"/>
<circle cx="682.0" cy="251.40" r="1.3" fill="#1b9ac0" fill-opacity="0.5" stroke="#1b9ac0" stroke-width="0.6"/>
<circle cx="691.5" cy="250.20" r="1.3" fill="#1b9ac0" fill-opacity="0.5" stroke="#1b9ac0" stroke-width="0.6"/>
<circle cx="701.7" cy="250.20" r="1.3" fill="#1b9ac0" fill-opacity="0.5" stroke="#1b9ac0" stroke-width="0.6"/>
<circle cx="703.5" cy="250.20" r="1.3" fill="#1b9ac0" fill-opacity="0.5" stroke="#1b9ac0" stroke-width="0.6"/>
<circle cx="705.2" cy="250.20" r="1.3" fill="#1b9ac0" fill-opacity="0.5" stroke="#1b9ac0" stroke-width="0.6"/>
<circle cx="707.8" cy="250.20" r="1.3" fill="#1b9ac0" fill-opacity="0.5" stroke="#1b9ac0" stroke-width="0.6"/>
<circle cx="719.0" cy="250.20" r="1.3" fill="#1b9ac0" fill-opacity="0.5" stroke="#1b9ac0" stroke-width="0.6"/>
<circle cx="721.6" cy="250.20" r="1.3" fill="#1b9ac0" fill-opacity="0.5" stroke="#1b9ac0" stroke-width="0.6"/>
<circle cx="726.8" cy="250.20" r="1.3" fill="#1b9ac0" fill-opacity="0.5" stroke="#1b9ac0" stroke-width="0.6"/>
<circle cx="744.2" cy="250.20" r="1.3" fill="#1b9ac0" fill-opacity="0.5" stroke="#1b9ac0" stroke-width="0.6"/>
<circle cx="745.9" cy="250.20" r="1.3" fill="#1b9ac0" fill-opacity="0.5" stroke="#1b9ac0" stroke-width="0.6"/>
<circle cx="754.5" cy="250.20" r="1.3" fill="#1b9ac0" fill-opacity="0.5" stroke="#1b9ac0" stroke-width="0.6"/>
<circle cx="757.1" cy="250.20" r="1.3" fill="#1b9ac0" fill-opacity="0.5" stroke="#1b9ac0" stroke-width="0.6"/>
<circle cx="760.6" cy="250.20" r="1.3" fill="#1b9ac0" fill-opacity="0.5" stroke="#1b9ac0" stroke-width="0.6"/>
<circle cx="763.2" cy="250.20" r="1.3" fill="#1b9ac0" fill-opacity="0.5" stroke="#1b9ac0" stroke-width="0.6"/>
<circle cx="779.7" cy="248.50" r="1.3" fill="#1b9ac0" fill-opacity="0.5" stroke="#1b9ac0" stroke-width="0.6"/>
<circle cx="783.1" cy="248.50" r="1.3" fill="#1b9ac0" fill-opacity="0.5" stroke="#1b9ac0" stroke-width="0.6"/>
<circle cx="785.7" cy="248.50" r="1.3" fill="#1b9ac0" fill-opacity="0.5" stroke="#1b9ac0" stroke-width="0.6"/>
<circle cx="794.4" cy="248.50" r="1.3" fill="#1b9ac0" fill-opacity="0.5" stroke="#1b9ac0" stroke-width="0.6"/>
<circle cx="801.3" cy="248.50" r="1.3" fill="#1b9ac0" fill-opacity="0.5" stroke="#1b9ac0" stroke-width="0.6"/>
<circle cx="803.9" cy="248.50" r="1.3" fill="#1b9ac0" fill-opacity="0.5" stroke="#1b9ac0" stroke-width="0.6"/>
<circle cx="808.2" cy="248.50" r="1.3" fill="#1b9ac0" fill-opacity="0.5" stroke="#1b9ac0" stroke-width="0.6"/>
<circle cx="810.8" cy="248.50" r="1.3" fill="#1b9ac0" fill-opacity="0.5" stroke="#1b9ac0" stroke-width="0.6"/>
<circle cx="814.3" cy="248.50" r="1.3" fill="#1b9ac0" fill-opacity="0.5" stroke="#1b9ac0" stroke-width="0.6"/>
<circle cx="819.5" cy="247.10" r="1.3" fill="#1b9ac0" fill-opacity="0.5" stroke="#1b9ac0" stroke-width="0.6"/>
<circle cx="829.0" cy="247.10" r="1.3" fill="#1b9ac0" fill-opacity="0.5" stroke="#1b9ac0" stroke-width="0.6"/>
<circle cx="836.8" cy="247.10" r="1.3" fill="#1b9ac0" fill-opacity="0.5" stroke="#1b9ac0" stroke-width="0.6"/>
<circle cx="846.4" cy="247.10" r="1.3" fill="#1b9ac0" fill-opacity="0.5" stroke="#1b9ac0" stroke-width="0.6"/>
<circle cx="850.7" cy="247.10" r="1.3" fill="#1b9ac0" fill-opacity="0.5" stroke="#1b9ac0" stroke-width="0.6"/>
<circle cx="853.3" cy="247.10" r="1.3" fill="#1b9ac0" fill-opacity="0.5" stroke="#1b9ac0" stroke-width="0.6"/>
<circle cx="857.6" cy="247.10" r="1.3" fill="#1b9ac0" fill-opacity="0.5" stroke="#1b9ac0" stroke-width="0.6"/>
<circle cx="862.8" cy="247.10" r="1.3" fill="#1b9ac0" fill-opacity="0.5" stroke="#1b9ac0" stroke-width="0.6"/>
<circle cx="864.5" cy="247.10" r="1.3" fill="#1b9ac0" fill-opacity="0.5" stroke="#1b9ac0" stroke-width="0.6"/>
<circle cx="873.2" cy="247.10" r="1.3" fill="#1b9ac0" fill-opacity="0.5" stroke="#1b9ac0" stroke-width="0.6"/>
<circle cx="879.3" cy="247.10" r="1.3" fill="#1b9ac0" fill-opacity="0.5" stroke="#1b9ac0" stroke-width="0.6"/>
<circle cx="889.7" cy="247.10" r="1.3" fill="#1b9ac0" fill-opacity="0.5" stroke="#1b9ac0" stroke-width="0.6"/>
<circle cx="894.8" cy="247.10" r="1.3" fill="#1b9ac0" fill-opacity="0.5" stroke="#1b9ac0" stroke-width="0.6"/>
<circle cx="900.0" cy="247.10" r="1.3" fill="#1b9ac0" fill-opacity="0.5" stroke="#1b9ac0" stroke-width="0.6"/>
<circle cx="902.6" cy="247.10" r="1.3" fill="#1b9ac0" fill-opacity="0.5" stroke="#1b9ac0" stroke-width="0.6"/>
<circle cx="905.2" cy="247.10" r="1.3" fill="#1b9ac0" fill-opacity="0.5" stroke="#1b9ac0" stroke-width="0.6"/>
<path d="M589.20,262.50 L600.60,262.50 L600.60,260.50 L603.50,260.50 L603.50,258.90 L631.00,258.90 L631.00,256.30 L636.00,256.30 L636.00,254.50 L640.00,254.50 L640.00,253.70 L645.00,253.70 L645.00,251.40 L650.00,251.40 L650.00,249.40 L684.00,249.40 L684.00,246.40 L692.00,246.40 L692.00,243.30 L695.00,243.30 L695.00,240.70 L716.00,240.70 L716.00,237.20 L730.00,237.20 L730.00,233.80 L750.00,233.80 L750.00,227.20 L905.50,227.20" fill="none" stroke="#bd3453" stroke-width="1.5" stroke-linejoin="round"/>
<circle cx="590.2" cy="262.50" r="1.3" fill="#bd3453" fill-opacity="0.5" stroke="#bd3453" stroke-width="0.6"/>
<circle cx="593.7" cy="262.50" r="1.3" fill="#bd3453" fill-opacity="0.5" stroke="#bd3453" stroke-width="0.6"/>
<circle cx="598.0" cy="262.50" r="1.3" fill="#bd3453" fill-opacity="0.5" stroke="#bd3453" stroke-width="0.6"/>
<circle cx="605.8" cy="258.90" r="1.3" fill="#bd3453" fill-opacity="0.5" stroke="#bd3453" stroke-width="0.6"/>
<circle cx="610.1" cy="258.90" r="1.3" fill="#bd3453" fill-opacity="0.5" stroke="#bd3453" stroke-width="0.6"/>
<circle cx="613.6" cy="258.90" r="1.3" fill="#bd3453" fill-opacity="0.5" stroke="#bd3453" stroke-width="0.6"/>
<circle cx="621.4" cy="258.90" r="1.3" fill="#bd3453" fill-opacity="0.5" stroke="#bd3453" stroke-width="0.6"/>
<circle cx="654.3" cy="249.40" r="1.3" fill="#bd3453" fill-opacity="0.5" stroke="#bd3453" stroke-width="0.6"/>
<circle cx="666.4" cy="249.40" r="1.3" fill="#bd3453" fill-opacity="0.5" stroke="#bd3453" stroke-width="0.6"/>
<circle cx="675.0" cy="249.40" r="1.3" fill="#bd3453" fill-opacity="0.5" stroke="#bd3453" stroke-width="0.6"/>
<circle cx="697.6" cy="240.70" r="1.3" fill="#bd3453" fill-opacity="0.5" stroke="#bd3453" stroke-width="0.6"/>
<circle cx="702.8" cy="240.70" r="1.3" fill="#bd3453" fill-opacity="0.5" stroke="#bd3453" stroke-width="0.6"/>
<circle cx="706.1" cy="240.70" r="1.3" fill="#bd3453" fill-opacity="0.5" stroke="#bd3453" stroke-width="0.6"/>
<circle cx="710.4" cy="240.70" r="1.3" fill="#bd3453" fill-opacity="0.5" stroke="#bd3453" stroke-width="0.6"/>
<circle cx="717.3" cy="237.20" r="1.3" fill="#bd3453" fill-opacity="0.5" stroke="#bd3453" stroke-width="0.6"/>
<circle cx="719.9" cy="237.20" r="1.3" fill="#bd3453" fill-opacity="0.5" stroke="#bd3453" stroke-width="0.6"/>
<circle cx="721.6" cy="237.20" r="1.3" fill="#bd3453" fill-opacity="0.5" stroke="#bd3453" stroke-width="0.6"/>
<circle cx="732.0" cy="233.80" r="1.3" fill="#bd3453" fill-opacity="0.5" stroke="#bd3453" stroke-width="0.6"/>
<circle cx="748.5" cy="233.80" r="1.3" fill="#bd3453" fill-opacity="0.5" stroke="#bd3453" stroke-width="0.6"/>
<circle cx="752.0" cy="227.20" r="1.3" fill="#bd3453" fill-opacity="0.5" stroke="#bd3453" stroke-width="0.6"/>
<circle cx="759.7" cy="227.20" r="1.3" fill="#bd3453" fill-opacity="0.5" stroke="#bd3453" stroke-width="0.6"/>
<circle cx="768.4" cy="227.20" r="1.3" fill="#bd3453" fill-opacity="0.5" stroke="#bd3453" stroke-width="0.6"/>
<circle cx="779.7" cy="227.20" r="1.3" fill="#bd3453" fill-opacity="0.5" stroke="#bd3453" stroke-width="0.6"/>
<circle cx="799.6" cy="227.20" r="1.3" fill="#bd3453" fill-opacity="0.5" stroke="#bd3453" stroke-width="0.6"/>
<circle cx="804.8" cy="227.20" r="1.3" fill="#bd3453" fill-opacity="0.5" stroke="#bd3453" stroke-width="0.6"/>
<circle cx="809.1" cy="227.20" r="1.3" fill="#bd3453" fill-opacity="0.5" stroke="#bd3453" stroke-width="0.6"/>
<circle cx="812.6" cy="227.20" r="1.3" fill="#bd3453" fill-opacity="0.5" stroke="#bd3453" stroke-width="0.6"/>
<circle cx="821.3" cy="227.20" r="1.3" fill="#bd3453" fill-opacity="0.5" stroke="#bd3453" stroke-width="0.6"/>
<circle cx="827.3" cy="227.20" r="1.3" fill="#bd3453" fill-opacity="0.5" stroke="#bd3453" stroke-width="0.6"/>
<circle cx="832.5" cy="227.20" r="1.3" fill="#bd3453" fill-opacity="0.5" stroke="#bd3453" stroke-width="0.6"/>
<circle cx="836.0" cy="227.20" r="1.3" fill="#bd3453" fill-opacity="0.5" stroke="#bd3453" stroke-width="0.6"/>
<circle cx="872.3" cy="227.20" r="1.3" fill="#bd3453" fill-opacity="0.5" stroke="#bd3453" stroke-width="0.6"/>
<circle cx="888.8" cy="227.20" r="1.3" fill="#bd3453" fill-opacity="0.5" stroke="#bd3453" stroke-width="0.6"/>
<circle cx="904.4" cy="227.20" r="1.3" fill="#bd3453" fill-opacity="0.5" stroke="#bd3453" stroke-width="0.6"/>
<path d="M573.5,64 V272.3" fill="none" stroke="#686868" stroke-width="1.6"/>
<path d="M572.7,272.3 H923.6" fill="none" stroke="#a8a8a8" stroke-width="2.6"/>
<path d="M571.2,262.70 H573.5" stroke="#333" stroke-width="0.8"/>
<text x="570.80" y="265.30" font-size="7.4" text-anchor="end" font-weight="normal" font-style="normal" fill="#4d4d4d" >0%</text>
<path d="M571.2,224.74 H573.5" stroke="#333" stroke-width="0.8"/>
<text x="570.80" y="227.34" font-size="7.4" text-anchor="end" font-weight="normal" font-style="normal" fill="#4d4d4d" >20%</text>
<path d="M571.2,186.78 H573.5" stroke="#333" stroke-width="0.8"/>
<text x="570.80" y="189.38" font-size="7.4" text-anchor="end" font-weight="normal" font-style="normal" fill="#4d4d4d" >40%</text>
<path d="M571.2,148.82 H573.5" stroke="#333" stroke-width="0.8"/>
<text x="570.80" y="151.42" font-size="7.4" text-anchor="end" font-weight="normal" font-style="normal" fill="#4d4d4d" >60%</text>
<path d="M571.2,110.86 H573.5" stroke="#333" stroke-width="0.8"/>
<text x="570.80" y="113.46" font-size="7.4" text-anchor="end" font-weight="normal" font-style="normal" fill="#4d4d4d" >80%</text>
<path d="M571.2,72.90 H573.5" stroke="#333" stroke-width="0.8"/>
<text x="570.80" y="75.50" font-size="7.4" text-anchor="end" font-weight="normal" font-style="normal" fill="#4d4d4d" >100%</text>
<path d="M589.20,272.5 V274.8" stroke="#333" stroke-width="0.8"/>
<text x="588.30" y="281.50" font-size="7.4" text-anchor="middle" font-weight="normal" font-style="normal" fill="#4d4d4d" >0</text>
<path d="M615.72,272.5 V274.8" stroke="#333" stroke-width="0.8"/>
<text x="614.82" y="281.50" font-size="7.4" text-anchor="middle" font-weight="normal" font-style="normal" fill="#4d4d4d" >3</text>
<path d="M642.23,272.5 V274.8" stroke="#333" stroke-width="0.8"/>
<text x="641.33" y="281.50" font-size="7.4" text-anchor="middle" font-weight="normal" font-style="normal" fill="#4d4d4d" >6</text>
<path d="M668.75,272.5 V274.8" stroke="#333" stroke-width="0.8"/>
<text x="667.85" y="281.50" font-size="7.4" text-anchor="middle" font-weight="normal" font-style="normal" fill="#4d4d4d" >9</text>
<path d="M695.27,272.5 V274.8" stroke="#333" stroke-width="0.8"/>
<text x="694.37" y="281.50" font-size="7.4" text-anchor="middle" font-weight="normal" font-style="normal" fill="#4d4d4d" >12</text>
<path d="M721.78,272.5 V274.8" stroke="#333" stroke-width="0.8"/>
<text x="720.88" y="281.50" font-size="7.4" text-anchor="middle" font-weight="normal" font-style="normal" fill="#4d4d4d" >15</text>
<path d="M748.30,272.5 V274.8" stroke="#333" stroke-width="0.8"/>
<text x="747.40" y="281.50" font-size="7.4" text-anchor="middle" font-weight="normal" font-style="normal" fill="#4d4d4d" >18</text>
<path d="M774.82,272.5 V274.8" stroke="#333" stroke-width="0.8"/>
<text x="773.92" y="281.50" font-size="7.4" text-anchor="middle" font-weight="normal" font-style="normal" fill="#4d4d4d" >21</text>
<path d="M801.33,272.5 V274.8" stroke="#333" stroke-width="0.8"/>
<text x="800.43" y="281.50" font-size="7.4" text-anchor="middle" font-weight="normal" font-style="normal" fill="#4d4d4d" >24</text>
<path d="M827.85,272.5 V274.8" stroke="#333" stroke-width="0.8"/>
<text x="826.95" y="281.50" font-size="7.4" text-anchor="middle" font-weight="normal" font-style="normal" fill="#4d4d4d" >27</text>
<path d="M854.37,272.5 V274.8" stroke="#333" stroke-width="0.8"/>
<text x="853.47" y="281.50" font-size="7.4" text-anchor="middle" font-weight="normal" font-style="normal" fill="#4d4d4d" >30</text>
<path d="M880.88,272.5 V274.8" stroke="#333" stroke-width="0.8"/>
<text x="879.98" y="281.50" font-size="7.4" text-anchor="middle" font-weight="normal" font-style="normal" fill="#4d4d4d" >33</text>
<path d="M907.40,272.5 V274.8" stroke="#333" stroke-width="0.8"/>
<text x="906.50" y="281.50" font-size="7.4" text-anchor="middle" font-weight="normal" font-style="normal" fill="#4d4d4d" >36</text>
<text x="680.40" y="296.50" font-size="9.9" text-anchor="start" font-weight="bold" font-style="normal" fill="#000" textLength="137" lengthAdjust="spacingAndGlyphs">Time after allo−HCT (months)</text>
<text x="0" y="0" font-size="10" font-weight="bold" text-anchor="middle" transform="translate(551.8,169.0) rotate(-90)">Cumulative incidence of relapse</text>
<text x="906.00" y="230.00" font-size="7" text-anchor="start" font-weight="normal" font-style="normal" fill="#222" stroke="#222" stroke-width="0.18" >18.9%</text>
<text x="909.00" y="249.90" font-size="7" text-anchor="start" font-weight="normal" font-style="normal" fill="#222" stroke="#222" stroke-width="0.18" >8.3%</text>
<text x="835.00" y="190.00" font-size="9.4" text-anchor="start" font-weight="normal" font-style="normal" fill="#222" stroke="#222" stroke-width="0.1" >p = 0.024</text>
<rect x="827.1" y="109.9" width="10.9" height="10.4" fill="#4fb3cf" fill-opacity="0.32"/>
<path d="M827.6,115.10 H837.5" stroke="#1b9ac0" stroke-width="1.4"/>
<circle cx="832.55" cy="115.10" r="1.3" fill="#1b9ac0" fill-opacity="0.6" stroke="#1b9ac0" stroke-width="0.6"/>
<rect x="827.1" y="121.6" width="10.9" height="10.6" fill="#c45a72" fill-opacity="0.32"/>
<path d="M827.6,126.90 H837.5" stroke="#bd3453" stroke-width="1.4"/>
<circle cx="832.55" cy="126.90" r="1.3" fill="#bd3453" fill-opacity="0.6" stroke="#bd3453" stroke-width="0.6"/>
<text x="841.50" y="117.60" font-size="6" text-anchor="start" font-weight="normal" font-style="normal" fill="#222" stroke="#222" stroke-width="0.15" >CR1 HCT</text>
<text x="841.50" y="128.80" font-size="6" text-anchor="start" font-weight="normal" font-style="normal" fill="#222" stroke="#222" stroke-width="0.15" >Non CR1 HCT</text>
<text x="550.80" y="313.10" font-size="6.6" text-anchor="start" font-weight="bold" font-style="normal" fill="#000" >Numbers at risk</text>
<text x="550.80" y="320.30" font-size="6.6" text-anchor="start" font-weight="bold" font-style="normal" fill="#000" >(number censored)</text>
<rect x="557.3" y="336.8" width="12.8" height="13.4" fill="#4fb3cf" fill-opacity="0.32"/>
<path d="M557.8,343.50 H569.5999999999999" stroke="#1b9ac0" stroke-width="1.4"/>
<circle cx="563.70" cy="343.50" r="1.3" fill="#1b9ac0" fill-opacity="0.6" stroke="#1b9ac0" stroke-width="0.6"/>
<text x="588.40" y="341.10" font-size="6.5" text-anchor="middle" font-weight="normal" font-style="normal" fill="#222" stroke="#222" stroke-width="0.15" >187</text>
<text x="588.40" y="348.80" font-size="6.5" text-anchor="middle" font-weight="normal" font-style="normal" fill="#222" stroke="#222" stroke-width="0.15" >(0)</text>
<text x="614.98" y="341.10" font-size="6.5" text-anchor="middle" font-weight="normal" font-style="normal" fill="#222" stroke="#222" stroke-width="0.15" >180</text>
<text x="614.98" y="348.80" font-size="6.5" text-anchor="middle" font-weight="normal" font-style="normal" fill="#222" stroke="#222" stroke-width="0.15" >(7)</text>
<text x="641.56" y="341.10" font-size="6.5" text-anchor="middle" font-weight="normal" font-style="normal" fill="#222" stroke="#222" stroke-width="0.15" >168</text>
<text x="641.56" y="348.80" font-size="6.5" text-anchor="middle" font-weight="normal" font-style="normal" fill="#222" stroke="#222" stroke-width="0.15" >(9)</text>
<text x="668.14" y="341.10" font-size="6.5" text-anchor="middle" font-weight="normal" font-style="normal" fill="#222" stroke="#222" stroke-width="0.15" >150</text>
<text x="668.14" y="348.80" font-size="6.5" text-anchor="middle" font-weight="normal" font-style="normal" fill="#222" stroke="#222" stroke-width="0.15" >(12)</text>
<text x="694.72" y="341.10" font-size="6.5" text-anchor="middle" font-weight="normal" font-style="normal" fill="#222" stroke="#222" stroke-width="0.15" >139</text>
<text x="694.72" y="348.80" font-size="6.5" text-anchor="middle" font-weight="normal" font-style="normal" fill="#222" stroke="#222" stroke-width="0.15" >(9)</text>
<text x="721.30" y="341.10" font-size="6.5" text-anchor="middle" font-weight="normal" font-style="normal" fill="#222" stroke="#222" stroke-width="0.15" >127</text>
<text x="721.30" y="348.80" font-size="6.5" text-anchor="middle" font-weight="normal" font-style="normal" fill="#222" stroke="#222" stroke-width="0.15" >(12)</text>
<text x="747.88" y="341.10" font-size="6.5" text-anchor="middle" font-weight="normal" font-style="normal" fill="#222" stroke="#222" stroke-width="0.15" >124</text>
<text x="747.88" y="348.80" font-size="6.5" text-anchor="middle" font-weight="normal" font-style="normal" fill="#222" stroke="#222" stroke-width="0.15" >(3)</text>
<text x="774.46" y="341.10" font-size="6.5" text-anchor="middle" font-weight="normal" font-style="normal" fill="#222" stroke="#222" stroke-width="0.15" >118</text>
<text x="774.46" y="348.80" font-size="6.5" text-anchor="middle" font-weight="normal" font-style="normal" fill="#222" stroke="#222" stroke-width="0.15" >(5)</text>
<text x="801.04" y="341.10" font-size="6.5" text-anchor="middle" font-weight="normal" font-style="normal" fill="#222" stroke="#222" stroke-width="0.15" >113</text>
<text x="801.04" y="348.80" font-size="6.5" text-anchor="middle" font-weight="normal" font-style="normal" fill="#222" stroke="#222" stroke-width="0.15" >(5)</text>
<text x="827.62" y="341.10" font-size="6.5" text-anchor="middle" font-weight="normal" font-style="normal" fill="#222" stroke="#222" stroke-width="0.15" >103</text>
<text x="827.62" y="348.80" font-size="6.5" text-anchor="middle" font-weight="normal" font-style="normal" fill="#222" stroke="#222" stroke-width="0.15" >(9)</text>
<text x="854.20" y="341.10" font-size="6.5" text-anchor="middle" font-weight="normal" font-style="normal" fill="#222" stroke="#222" stroke-width="0.15" >98</text>
<text x="854.20" y="348.80" font-size="6.5" text-anchor="middle" font-weight="normal" font-style="normal" fill="#222" stroke="#222" stroke-width="0.15" >(5)</text>
<text x="880.78" y="341.10" font-size="6.5" text-anchor="middle" font-weight="normal" font-style="normal" fill="#222" stroke="#222" stroke-width="0.15" >92</text>
<text x="880.78" y="348.80" font-size="6.5" text-anchor="middle" font-weight="normal" font-style="normal" fill="#222" stroke="#222" stroke-width="0.15" >(6)</text>
<text x="907.36" y="341.10" font-size="6.5" text-anchor="middle" font-weight="normal" font-style="normal" fill="#222" stroke="#222" stroke-width="0.15" >84</text>
<text x="907.36" y="348.80" font-size="6.5" text-anchor="middle" font-weight="normal" font-style="normal" fill="#222" stroke="#222" stroke-width="0.15" >(8)</text>
<rect x="557.3" y="378.6" width="12.8" height="13.4" fill="#c45a72" fill-opacity="0.32"/>
<path d="M557.8,385.30 H569.5999999999999" stroke="#bd3453" stroke-width="1.4"/>
<circle cx="563.70" cy="385.30" r="1.3" fill="#bd3453" fill-opacity="0.6" stroke="#bd3453" stroke-width="0.6"/>
<text x="588.40" y="382.90" font-size="6.5" text-anchor="middle" font-weight="normal" font-style="normal" fill="#222" stroke="#222" stroke-width="0.15" >94</text>
<text x="588.40" y="390.60" font-size="6.5" text-anchor="middle" font-weight="normal" font-style="normal" fill="#222" stroke="#222" stroke-width="0.15" >(0)</text>
<text x="614.98" y="382.90" font-size="6.5" text-anchor="middle" font-weight="normal" font-style="normal" fill="#222" stroke="#222" stroke-width="0.15" >83</text>
<text x="614.98" y="390.60" font-size="6.5" text-anchor="middle" font-weight="normal" font-style="normal" fill="#222" stroke="#222" stroke-width="0.15" >(9)</text>
<text x="641.56" y="382.90" font-size="6.5" text-anchor="middle" font-weight="normal" font-style="normal" fill="#222" stroke="#222" stroke-width="0.15" >73</text>
<text x="641.56" y="390.60" font-size="6.5" text-anchor="middle" font-weight="normal" font-style="normal" fill="#222" stroke="#222" stroke-width="0.15" >(9)</text>
<text x="668.14" y="382.90" font-size="6.5" text-anchor="middle" font-weight="normal" font-style="normal" fill="#222" stroke="#222" stroke-width="0.15" >66</text>
<text x="668.14" y="390.60" font-size="6.5" text-anchor="middle" font-weight="normal" font-style="normal" fill="#222" stroke="#222" stroke-width="0.15" >(4)</text>
<text x="694.72" y="382.90" font-size="6.5" text-anchor="middle" font-weight="normal" font-style="normal" fill="#222" stroke="#222" stroke-width="0.15" >59</text>
<text x="694.72" y="390.60" font-size="6.5" text-anchor="middle" font-weight="normal" font-style="normal" fill="#222" stroke="#222" stroke-width="0.15" >(5)</text>
<text x="721.30" y="382.90" font-size="6.5" text-anchor="middle" font-weight="normal" font-style="normal" fill="#222" stroke="#222" stroke-width="0.15" >49</text>
<text x="721.30" y="390.60" font-size="6.5" text-anchor="middle" font-weight="normal" font-style="normal" fill="#222" stroke="#222" stroke-width="0.15" >(8)</text>
<text x="747.88" y="382.90" font-size="6.5" text-anchor="middle" font-weight="normal" font-style="normal" fill="#222" stroke="#222" stroke-width="0.15" >47</text>
<text x="747.88" y="390.60" font-size="6.5" text-anchor="middle" font-weight="normal" font-style="normal" fill="#222" stroke="#222" stroke-width="0.15" >(1)</text>
<text x="774.46" y="382.90" font-size="6.5" text-anchor="middle" font-weight="normal" font-style="normal" fill="#222" stroke="#222" stroke-width="0.15" >39</text>
<text x="774.46" y="390.60" font-size="6.5" text-anchor="middle" font-weight="normal" font-style="normal" fill="#222" stroke="#222" stroke-width="0.15" >(6)</text>
<text x="801.04" y="382.90" font-size="6.5" text-anchor="middle" font-weight="normal" font-style="normal" fill="#222" stroke="#222" stroke-width="0.15" >37</text>
<text x="801.04" y="390.60" font-size="6.5" text-anchor="middle" font-weight="normal" font-style="normal" fill="#222" stroke="#222" stroke-width="0.15" >(2)</text>
<text x="827.62" y="382.90" font-size="6.5" text-anchor="middle" font-weight="normal" font-style="normal" fill="#222" stroke="#222" stroke-width="0.15" >31</text>
<text x="827.62" y="390.60" font-size="6.5" text-anchor="middle" font-weight="normal" font-style="normal" fill="#222" stroke="#222" stroke-width="0.15" >(6)</text>
<text x="854.20" y="382.90" font-size="6.5" text-anchor="middle" font-weight="normal" font-style="normal" fill="#222" stroke="#222" stroke-width="0.15" >29</text>
<text x="854.20" y="390.60" font-size="6.5" text-anchor="middle" font-weight="normal" font-style="normal" fill="#222" stroke="#222" stroke-width="0.15" >(2)</text>
<text x="880.78" y="382.90" font-size="6.5" text-anchor="middle" font-weight="normal" font-style="normal" fill="#222" stroke="#222" stroke-width="0.15" >28</text>
<text x="880.78" y="390.60" font-size="6.5" text-anchor="middle" font-weight="normal" font-style="normal" fill="#222" stroke="#222" stroke-width="0.15" >(1)</text>
<text x="907.36" y="382.90" font-size="6.5" text-anchor="middle" font-weight="normal" font-style="normal" fill="#222" stroke="#222" stroke-width="0.15" >26</text>
<text x="907.36" y="390.60" font-size="6.5" text-anchor="middle" font-weight="normal" font-style="normal" fill="#222" stroke="#222" stroke-width="0.15" >(2)</text>
</svg></body></html>
